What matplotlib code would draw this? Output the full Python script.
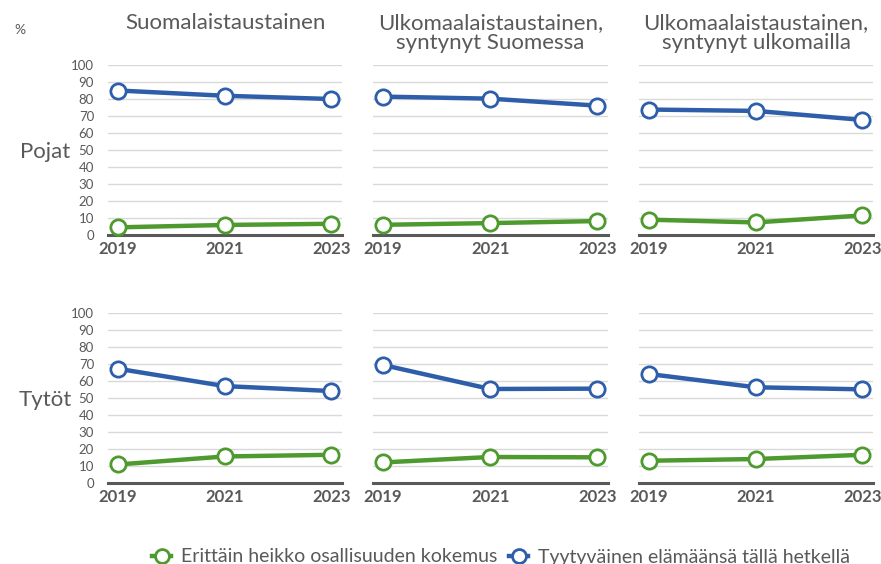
import matplotlib
matplotlib.use("Agg")
import matplotlib.pyplot as plt
from matplotlib.lines import Line2D

# --- data ---
years = [2019, 2021, 2023]
groups = ["Suomalaistaustainen",
          "Ulkomaalaistaustainen,\nsyntynyt Suomessa",
          "Ulkomaalaistaustainen,\nsyntynyt ulkomailla"]
rows = ["Pojat", "Tytöt"]
series_names = ["Erittäin heikko osallisuuden kokemus",
                "Tyytyväinen elämäänsä tällä hetkellä"]

# Pojat
boys_low = [[4.5, 5.9, 6.6], [6.0, 7.0, 8.2], [9.0, 7.4, 11.5]]
boys_satisfied = [[85.0, 81.9, 80.0], [81.4, 80.2, 76.1], [73.8, 73.0, 67.7]]
# Tytöt
girls_low = [[10.9, 15.6, 16.6], [12.1, 15.3, 15.1], [13.1, 14.1, 16.6]]
girls_satisfied = [[67.2, 57.0, 54.1], [69.4, 55.3, 55.5], [64.1, 56.3, 55.1]]

yticks = list(range(0, 101, 10))

GREEN = "#4E9A2F"
BLUE = "#2E5EAA"
TXT = "#595959"
GRID = "#D9D9D9"

plt.rcParams['font.family'] = ['Lato', 'DejaVu Sans']

W, H = 881, 564
fig = plt.figure(figsize=(W / 100, H / 100), dpi=100)

col_x = [(108, 342), (373, 608), (639, 873)]
row_y = [(65, 235), (313, 483)]
data = [(boys_low, boys_satisfied), (girls_low, girls_satisfied)]


def px_rect(x0, x1, y0, y1):
    return [x0 / W, 1 - y1 / H, (x1 - x0) / W, (y1 - y0) / H]


for r, (low, sat) in enumerate(data):
    for c in range(3):
        x0, x1 = col_x[c]
        y0, y1 = row_y[r]
        ax = fig.add_axes(px_rect(x0, x1, y0, y1))
        ax.set_xlim(2018.81, 2023.2)
        ax.set_ylim(0, 100)
        ax.set_yticks(yticks)
        ax.set_xticks(years)
        ax.grid(axis='y', color=GRID, lw=1)
        ax.set_axisbelow(True)
        for s in ['top', 'right', 'left']:
            ax.spines[s].set_visible(False)
        ax.spines['bottom'].set_color(TXT)
        ax.spines['bottom'].set_linewidth(2.2)
        ax.tick_params(length=0)
        ax.set_xticklabels([str(y) for y in years], fontsize=12, fontweight='bold', color=TXT)
        ax.tick_params(axis='x', pad=4)
        if c == 0:
            ax.set_yticklabels([str(v) for v in yticks], fontsize=9.5, color=TXT)
            ax.tick_params(axis='y', pad=10)
        else:
            ax.set_yticklabels([])
        for vals, col in ((low[c], GREEN), (sat[c], BLUE)):
            ax.plot(years, vals, color=col, lw=3.2, marker='o', markersize=11,
                    markerfacecolor='white', markeredgecolor=col, markeredgewidth=2,
                    clip_on=False, zorder=3)
        if r == 0:
            fig.text((x0 + x1) / 2 / W, 1 - 13 / H, groups[c], ha='center', va='top',
                     fontsize=16, color=TXT, linespacing=0.98)

fig.text(20 / W, 1 - 30 / H, "%", ha='center', va='center', fontsize=10, color=TXT)
fig.text(45 / W, 1 - 152 / H, rows[0], ha='center', va='center', fontsize=16, color=TXT)
fig.text(45 / W, 1 - 400 / H, rows[1], ha='center', va='center', fontsize=16, color=TXT)

handles = [Line2D([0], [0], color=col, lw=3.2, marker='o', markersize=10,
                  markerfacecolor='white', markeredgecolor=col, markeredgewidth=2)
           for col in (GREEN, BLUE)]
leg = fig.legend(handles, series_names, loc='center', ncol=2,
                 bbox_to_anchor=(501 / W, 1 - 557 / H), frameon=False,
                 fontsize=14, handlelength=1.0, handletextpad=0.5, columnspacing=0.6)
for t in leg.get_texts():
    t.set_color(TXT)

fig.savefig("out.png", dpi=100)
